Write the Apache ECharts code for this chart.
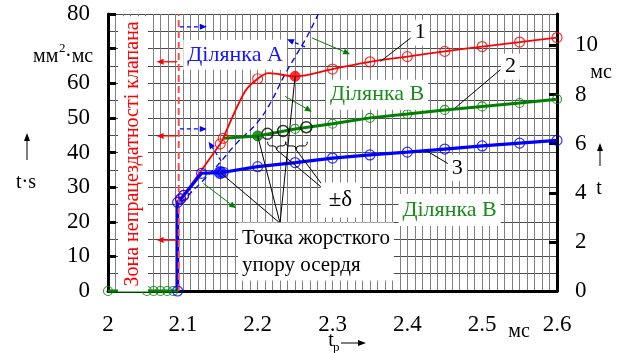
<!DOCTYPE html>
<html>
<head>
<meta charset="utf-8">
<script src="https://cdn.jsdelivr.net/npm/echarts@6/dist/echarts.min.js"></script>
<style>
  html, body { margin: 0; padding: 0; background: #fff; }
  #chart { width: 617px; height: 353px; }
</style>
</head>
<body>
<div id="chart"></div>
<script>
const FONT = "'Liberation Serif', serif";

// Axis ticks
const xTicks = [2, 2.1, 2.2, 2.3, 2.4, 2.5, 2.6];
const leftLabelled = [0, 10, 20, 30, 40, 50, 60, 80];
const rightTicks = [0, 2, 4, 6, 8, 10];
const RIGHT_MAX = 11.28;

// Curve 1 (red): rise part and measured curve
const redRiseT = [2.093, 2.093, 2.097, 2.101, 2.150, 2.154];
const redRiseV = [0, 25.6, 26.6, 27.6, 42.5, 44.1];
const redCurveT = [2.154, 2.183, 2.200, 2.215, 2.250, 2.300, 2.350, 2.400, 2.450, 2.500, 2.550, 2.600];
const redCurveV = [44.1, 57.6, 61.3, 62.9, 62.0, 64.1, 66.2, 67.7, 69.2, 70.6, 71.9, 73.2];
const redPtT = [2.097, 2.101, 2.150, 2.154, 2.200, 2.300, 2.350, 2.400, 2.450, 2.500, 2.550, 2.600];
const redPtV = [26.6, 27.6, 42.5, 44.1, 61.3, 64.1, 66.2, 67.7, 69.2, 70.6, 71.9, 73.2];
const redStopT = [2.250];
const redStopV = [62.0];

// Curve 2 (green)
const greenBaseT = [2.0, 2.052, 2.061, 2.070, 2.079, 2.087, 2.093, 2.093, 2.097];
const greenBaseV = [0, 0, 0, 0, 0, 0, 0, 25.6, 26.6];
const greenT = [2.154, 2.200, 2.250, 2.300, 2.350, 2.400, 2.450, 2.500, 2.550, 2.600];
const greenV = [44.1, 44.8, 46.8, 48.3, 50.0, 51.1, 52.3, 53.3, 54.3, 55.4];
const greenPtT = [2.0, 2.052, 2.061, 2.070, 2.079, 2.087, 2.250, 2.300, 2.350, 2.400, 2.450, 2.500, 2.550, 2.600];
const greenPtV = [0, 0, 0, 0, 0, 0, 46.8, 48.3, 50.0, 51.1, 52.3, 53.3, 54.3, 55.4];
const greenStopT = [2.200];
const greenStopV = [44.8];

// Curve 3 (blue)
const blueT = [2.093, 2.093, 2.097, 2.101, 2.125, 2.150, 2.154, 2.200, 2.250, 2.300, 2.350, 2.400, 2.450, 2.500, 2.550, 2.600];
const blueV = [0, 25.6, 26.6, 27.6, 34.0, 34.2, 34.3, 35.9, 37.1, 38.4, 39.3, 40.1, 41.0, 41.9, 42.7, 43.5];
const bluePtT = [2.093, 2.093, 2.097, 2.101, 2.125, 2.154, 2.200, 2.250, 2.300, 2.350, 2.400, 2.450, 2.500, 2.550, 2.600];
const bluePtV = [0, 25.6, 26.6, 27.6, 34.0, 34.3, 35.9, 37.1, 38.4, 39.3, 40.1, 41.0, 41.9, 42.7, 43.5];
const blueStopT = [2.150];
const blueStopV = [34.2];

// ±δ spread points on curve 2
const deltaT = [2.213, 2.234, 2.265];
const deltaV = [45.4, 46.2, 47.3];

// Dashed boundary curve of zone A
const idealT = [2.097, 2.141, 2.172, 2.199, 2.217, 2.235, 2.253, 2.266, 2.281];
const idealV = [25.5, 35.0, 42.7, 48.5, 54.3, 62.0, 68.7, 73.5, 80.0];

const zip = (a, b) => a.map((v, i) => [v, b[i]]);

const RED = '#ff0000', GREEN = '#008000', BLUE = '#0000ff';

function lineSeries(data, color, width, extra) {
  return Object.assign({
    type: 'line', data, symbol: 'none', z: 2,
    lineStyle: { color, width }, clip: false, silent: true, animation: false
  }, extra || {});
}
function pointSeries(data, color, size, filled, extra) {
  return Object.assign({
    type: 'scatter', data, symbol: 'circle', symbolSize: size, z: 4, clip: false,
    silent: true, animation: false,
    itemStyle: filled
      ? { color, borderColor: color, borderWidth: 1 }
      : { color: 'rgba(0,0,0,0)', borderColor: color, borderWidth: 1.2 }
  }, extra || {});
}

const chart = echarts.init(document.getElementById('chart'), null, { renderer: 'canvas' });

const gridColorV = '#808080';
const gridColorH = '#4a4a4a';
const tickFont = { color: '#000', fontFamily: FONT, fontSize: 23 };

chart.setOption({
  animation: false,
  backgroundColor: '#fff',
  textStyle: { fontFamily: FONT },
  grid: { left: 108, right: 60, top: 14, bottom: 62 },
  xAxis: {
    type: 'value', min: xTicks[0], max: xTicks[xTicks.length - 1], interval: 0.1,
    axisLine: { show: true, onZero: false, lineStyle: { color: '#000', width: 3 } },
    axisTick: { show: false },
    axisLabel: Object.assign({ margin: 22, formatter: v => v.toFixed(1).replace(/\.0$/, '') }, tickFont),
    splitLine: { show: true, lineStyle: { color: gridColorV, width: 1 } },
    minorTick: { show: false, splitNumber: 10 },
    minorSplitLine: { show: true, lineStyle: { color: gridColorV, width: 1 } }
  },
  yAxis: [
    {
      type: 'value', position: 'left', min: 0, max: 80, interval: 10,
      axisLine: { show: true, lineStyle: { color: '#000', width: 3 } },
      axisTick: { show: true, inside: true, length: 8, lineStyle: { color: '#000', width: 3 } },
      axisLabel: Object.assign({ margin: 18, formatter: v => leftLabelled.includes(v) ? String(v) : '' }, tickFont),
      splitLine: { show: true, lineStyle: { color: gridColorH, width: 1 } },
      minorTick: { show: false, splitNumber: 2 },
      minorSplitLine: { show: true, lineStyle: { color: gridColorH, width: 1 } }
    },
    {
      type: 'value', position: 'right', min: 0, max: RIGHT_MAX, interval: 2,
      axisLine: { show: true, lineStyle: { color: '#000', width: 3 } },
      axisTick: { show: true, inside: true, length: 8, lineStyle: { color: '#000', width: 3 }, customValues: rightTicks },
      axisLabel: Object.assign({ margin: 18, customValues: rightTicks }, tickFont),
      splitLine: { show: false }
    }
  ],
  series: [
    lineSeries(zip(idealT, idealV), BLUE, 1.3, { smooth: 0.4, lineStyle: { color: BLUE, width: 1.3, type: [6, 4] } }),
    lineSeries(zip(greenBaseT, greenBaseV), GREEN, 3),
    lineSeries(zip(greenT, greenV), GREEN, 3),
    lineSeries(zip(redRiseT, redRiseV), RED, 1.8),
    lineSeries(zip(redCurveT, redCurveV), RED, 1.8, { smooth: 0.3 }),
    lineSeries(zip(blueT, blueV), BLUE, 3.2),
    pointSeries(zip(greenPtT, greenPtV), GREEN, 9, false),
    pointSeries(zip(redPtT, redPtV), RED, 10, false),
    pointSeries(zip(bluePtT, bluePtV), BLUE, 10, false),
    pointSeries(zip(deltaT, deltaV), '#000', 11, false, { itemStyle: { color: 'rgba(0,0,0,0)', borderColor: '#000', borderWidth: 1.5 } }),
    pointSeries(zip(redStopT, redStopV), RED, 10, true),
    pointSeries(zip(greenStopT, greenStopV), GREEN, 10, true),
    pointSeries(zip(blueStopT, blueStopV), BLUE, 12, true)
  ]
});

// ---- annotations, placed in data coordinates ----
const P = (x, y) => chart.convertToPixel({ xAxisIndex: 0, yAxisIndex: 0 }, [x, y]);
const els = [];

function seg(a, b, color, width, dash, z) {
  els.push({ type: 'line', z: z || 5, silent: true,
    shape: { x1: a[0], y1: a[1], x2: b[0], y2: b[1] },
    style: { stroke: color, lineWidth: width, lineDash: dash || null } });
}
function curve(a, c, b) {
  els.push({ type: 'bezierCurve', z: 5, silent: true,
    shape: { x1: a[0], y1: a[1], cpx1: c[0], cpy1: c[1], x2: b[0], y2: b[1] },
    style: { stroke: '#000', lineWidth: 1, fill: null } });
}
function arrow(a, b, color, width, dash, headLen, headHalf, z) {
  const dx = b[0] - a[0], dy = b[1] - a[1];
  const L = Math.hypot(dx, dy), ux = dx / L, uy = dy / L;
  const base = [b[0] - ux * headLen, b[1] - uy * headLen];
  seg(a, base, color, width, dash, z);
  els.push({ type: 'polygon', z: z || 5, silent: true,
    shape: { points: [b, [base[0] - uy * headHalf, base[1] + ux * headHalf], [base[0] + uy * headHalf, base[1] - ux * headHalf]] },
    style: { fill: color } });
}
function label(pos, text, color, size, extra) {
  els.push({ type: 'text', z: 7, silent: true, x: pos[0], y: pos[1],
    style: Object.assign({ text, fill: color, fontFamily: FONT, fontSize: size,
      align: 'center', verticalAlign: 'middle' }, extra || {}) });
}
// Curly brace opening upward, tip pointing down
function brace(x0, x1, xm, yTop, yMid, yTip) {
  const a = P(x0, yTop), b = P(x1, yTop), t = P(xm, yTip);
  const ym = P(xm, yMid)[1];
  curve(a, [a[0], ym], [a[0] + 3, ym]);
  seg([a[0] + 3, ym], [t[0] - 3, ym], '#000', 1);
  curve([t[0] - 3, ym], [t[0], ym], t);
  curve(t, [t[0], ym], [t[0] + 3, ym]);
  seg([t[0] + 3, ym], [b[0] - 3, ym], '#000', 1);
  curve([b[0] - 3, ym], [b[0], ym], b);
}

// Valve dead zone boundary
seg(P(2.0945, 0), P(2.0945, 80), '#ff4a4a', 2, [7, 4], 3);
[66.2, 44.8, 14.7].forEach(y => arrow(P(2.0925, y), P(2.065, y), RED, 1.3, null, 7, 3));
[76.3, 46.8].forEach(y => arrow(P(2.096, y), P(2.132, y), BLUE, 1.2, [4, 3], 7, 3));

// Pointers from the dashed curve into zone A
arrow(P(2.2633, 70.5), P(2.2392, 72.7), BLUE, 1.2, [4, 3], 7, 3);
arrow(P(2.1511, 37.6), P(2.1344, 43.1), BLUE, 1.2, [4, 3], 7, 3);

// Zone B pointers
arrow(P(2.2724, 73.1), P(2.3236, 68.4), GREEN, 1, null, 7, 3);
arrow(P(2.2367, 56.2), P(2.2724, 51.8), GREEN, 1, null, 7, 3);
arrow(P(2.1275, 31.1), P(2.1711, 23.9), GREEN, 1, null, 7, 3);

// Hard stop callout
const hub = P(2.2299, 19.6);
seg(hub, P(2.150, 34.2), '#000', 1);
seg(hub, P(2.200, 44.8), '#000', 1);
seg(hub, P(2.250, 62.0), '#000', 1);

// ±δ braces and callout
brace(2.2133, 2.2375, 2.2253, 43.1, 41.9, 40.8);
brace(2.2375, 2.2663, 2.2514, 43.1, 41.9, 40.8);
const hub2 = P(2.2945, 28.3);
seg(hub2, P(2.2253, 40.8), '#000', 1);
seg(hub2, P(2.2514, 40.8), '#000', 1);

// Curve number leaders
seg(P(2.3641, 66.3), P(2.4082, 73.7), '#000', 1);
seg(P(2.4641, 52.9), P(2.5243, 63.9), '#000', 1);
seg(P(2.4256, 40.5), P(2.4550, 36.7), '#000', 1);

// Text boxes inside the plot
const box = { backgroundColor: '#fff' };
label(P(2.1698, 68.2), 'Ділянка А', '#1414ff', 22, Object.assign({ padding: [4, 4] }, box));
label(P(2.3596, 56.7), 'Ділянка В', '#1a8c1a', 22, Object.assign({ padding: [4, 4] }, box));
label(P(2.4565, 23.4), 'Ділянка В', '#1a8c1a', 22, Object.assign({ padding: [5, 4] }, box));
label(P(2.3106, 26.3), '±δ', '#000', 23, Object.assign({ padding: [6, 8] }, box));
label(P(2.1737, 11.4), 'Точка жорсткого\nупору осердя', '#000', 21,
  Object.assign({ align: 'left', lineHeight: 27, padding: [2, 4, 2, 4] }, box));
label(P(2.4171, 74.6), '1', '#000', 22, Object.assign({ padding: [2, 4] }, box));
label(P(2.5377, 64.8), '2', '#000', 22, Object.assign({ padding: [2, 4] }, box));
label(P(2.4668, 35.6), '3', '#000', 22, Object.assign({ padding: [2, 4] }, box));

const zone = P(2.0334, 39.6);
els.push({ type: 'text', z: 7, silent: true, x: zone[0], y: zone[1], rotation: Math.PI / 2,
  style: { text: 'Зона непрацездатності клапана', fill: RED, fontFamily: FONT, fontSize: 20,
    align: 'center', verticalAlign: 'middle', backgroundColor: '#fff', padding: [5, 5] } });

// Axis titles
const axText = (x, y, text, size, align) => els.push({ type: 'text', z: 7, silent: true, x, y,
  style: { text, fill: '#000', fontFamily: FONT, fontSize: size, align: align || 'center', verticalAlign: 'middle' } });
axText(33, 57, 'мм', 20, 'left');
axText(59, 49, '2', 13, 'left');
axText(65, 57, '·мс', 20, 'left');
axText(26, 183, 't·s', 20);
arrow([27, 160], [27, 133], '#000', 1, null, 8, 3);
axText(601, 73, 'мс', 20);
arrow([600, 166], [600, 143], '#000', 1, null, 8, 3);
axText(599, 189, 't', 20);
axText(519, 332, 'мс', 20);
axText(331, 341, 't', 20);
axText(333, 348, 'р', 13, 'left');
arrow([341, 343], [366, 343], '#000', 1, null, 8, 3);

chart.setOption({ graphic: { elements: els } });
</script>
</body>
</html>
